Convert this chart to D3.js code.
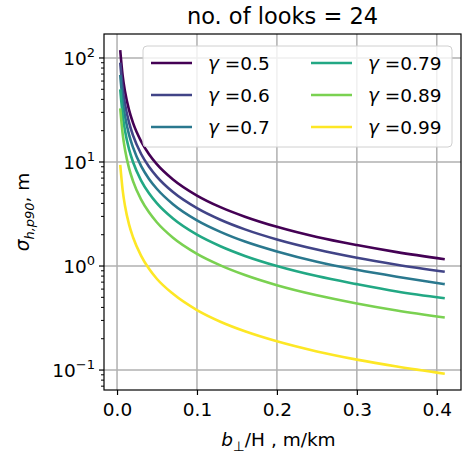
<!DOCTYPE html>
<html>
<head>
<meta charset="utf-8">
<script src="https://cdn.jsdelivr.net/npm/d3@7"></script>
<style>
  body { margin: 0; background: #fff; }
  text { font-family: "DejaVu Sans", sans-serif; fill: #000; }
</style>
</head>
<body>
<div id="main"></div>
<script>
const ctx = { w: 463, h: 454 };
const margin = { top: 34, right: 2, bottom: 64, left: 104 };

// baseline ratio b_perp/H (m/km)
const xVals = [0.004, 0.007, 0.01, 0.015, 0.02, 0.03, 0.04, 0.05, 0.07, 0.1, 0.13, 0.16, 0.2, 0.25, 0.3, 0.35, 0.41];

const gammas = ["0.5", "0.6", "0.7", "0.79", "0.89", "0.99"];
const colors = ["#440154", "#414487", "#2a788e", "#22a884", "#7ad151", "#fde725"];

const sig05 = [119, 68, 47.6, 31.7, 23.8, 15.9, 11.9, 9.5, 6.8, 4.76, 3.66, 2.98, 2.38, 1.90, 1.59, 1.36, 1.16];
const sig06 = [90, 51.4, 36, 24, 18, 12, 9.0, 7.2, 5.14, 3.6, 2.77, 2.25, 1.8, 1.44, 1.2, 1.03, 0.88];
const sig07 = [68.8, 39.3, 27.5, 18.3, 13.8, 9.17, 6.88, 5.5, 3.93, 2.75, 2.12, 1.72, 1.38, 1.10, 0.92, 0.79, 0.67];
const sig079 = [50, 28.6, 20, 13.3, 10, 6.67, 5.0, 4.0, 2.86, 2.0, 1.54, 1.25, 1.0, 0.80, 0.67, 0.57, 0.49];
const sig089 = [32.8, 18.7, 13.1, 8.73, 6.55, 4.37, 3.28, 2.62, 1.87, 1.31, 1.01, 0.82, 0.655, 0.524, 0.437, 0.374, 0.32];
const sig099 = [9.4, 5.4, 3.77, 2.51, 1.89, 1.26, 0.94, 0.75, 0.54, 0.377, 0.29, 0.236, 0.189, 0.151, 0.126, 0.108, 0.092];
const series = [sig05, sig06, sig07, sig079, sig089, sig099];

const xTicks = [0.0, 0.1, 0.2, 0.3, 0.4];
const yTicks = [0.1, 1, 10, 100];
const yExp = ["−1", "0", "1", "2"];

const svg = d3.select("#main").append("svg")
    .attr("width", ctx.w)
    .attr("height", ctx.h);

const iw = ctx.w - margin.left - margin.right;
const ih = ctx.h - margin.top - margin.bottom;

const x = d3.scaleLinear().domain([-0.0163, 0.4303]).range([0, iw]);
const y = d3.scaleLog().domain([0.0643, 170]).range([ih, 0]);

const g = svg.append("g").attr("transform", `translate(${margin.left},${margin.top})`);

// grid
g.append("g").selectAll("line").data(xTicks).enter().append("line")
    .attr("x1", d => x(d)).attr("x2", d => x(d))
    .attr("y1", 0).attr("y2", ih)
    .attr("stroke", "#b0b0b0").attr("stroke-width", 1.5);
g.append("g").selectAll("line").data(yTicks).enter().append("line")
    .attr("x1", 0).attr("x2", iw)
    .attr("y1", d => y(d)).attr("y2", d => y(d))
    .attr("stroke", "#b0b0b0").attr("stroke-width", 1.5);

// curves
const line = d3.line()
    .x((d, i) => x(xVals[i]))
    .y(d => y(d))
    .curve(d3.curveMonotoneX);

g.append("g").selectAll("path").data(series).enter().append("path")
    .attr("d", d => line(d))
    .attr("fill", "none")
    .attr("stroke", (d, i) => colors[i])
    .attr("stroke-width", 2.6);

// x axis
const xAxis = g.append("g").attr("transform", `translate(0,${ih})`)
    .call(d3.axisBottom(x).tickValues(xTicks).tickFormat(d3.format(".1f")).tickSize(5).tickSizeOuter(0));
xAxis.select(".domain").remove();
xAxis.selectAll("line").attr("stroke-width", 1.2);
xAxis.selectAll("text").style("font-size", "18.5px").attr("dy", "0.95em");

// y axis: minor ticks
const minor = [];
[0.01, 0.1, 1, 10, 100].forEach(dec => {
    for (let k = 2; k <= 9; k++) {
        const v = dec * k;
        if (v > 0.0643 && v < 170) minor.push(v);
    }
});
g.append("g").selectAll("line").data(minor).enter().append("line")
    .attr("x1", -3).attr("x2", 0)
    .attr("y1", d => y(d)).attr("y2", d => y(d))
    .attr("stroke", "#000").attr("stroke-width", 1);

const yAx = g.append("g");
yAx.selectAll("line").data(yTicks).enter().append("line")
    .attr("x1", -5).attr("x2", 0)
    .attr("y1", d => y(d)).attr("y2", d => y(d))
    .attr("stroke", "#000").attr("stroke-width", 1.2);
const yl = yAx.selectAll("text").data(yTicks).enter().append("text")
    .attr("x", -9)
    .attr("y", d => y(d) + 7)
    .attr("text-anchor", "end")
    .style("font-size", "18.5px");
yl.append("tspan").text("10");
yl.append("tspan").attr("dy", -8).style("font-size", "13px").text((d, i) => yExp[i]);

// frame
g.append("rect")
    .attr("width", iw).attr("height", ih)
    .attr("fill", "none").attr("stroke", "#000").attr("stroke-width", 1.2);

// legend
const lg = g.append("g").attr("transform", "translate(39,12)");
lg.append("rect")
    .attr("width", 309).attr("height", 101).attr("rx", 4)
    .attr("fill", "#fff").attr("fill-opacity", 0.8)
    .attr("stroke", "#d0d0d0").attr("stroke-width", 1);
gammas.forEach((gm, i) => {
    const col = Math.floor(i / 3), row = i % 3;
    const lx = 8 + col * 160, ly = 17 + row * 32;
    lg.append("line")
        .attr("x1", lx).attr("x2", lx + 41)
        .attr("y1", ly).attr("y2", ly)
        .attr("stroke", colors[i]).attr("stroke-width", 2.6);
    const t = lg.append("text")
        .attr("x", lx + 57).attr("y", ly + 7)
        .style("font-size", "18.5px");
    t.append("tspan").style("font-style", "italic").text("γ");
    t.append("tspan").text(" =" + gm);
});

// title
svg.append("text")
    .attr("x", margin.left + iw / 2).attr("y", 24)
    .attr("text-anchor", "middle")
    .style("font-size", "22.5px")
    .text("no. of looks = 24");

// x label
const xl = svg.append("text")
    .attr("x", margin.left + iw / 2 - 4).attr("y", 446)
    .attr("text-anchor", "middle")
    .style("font-size", "18.5px");
xl.append("tspan").style("font-style", "italic").text("b");
xl.append("tspan").attr("dy", 5).style("font-size", "13.5px").text("⊥");
xl.append("tspan").attr("dy", -5).text("/H , m/km");

// y label
const ylab = svg.append("text")
    .attr("transform", `translate(29,${margin.top + ih / 2}) rotate(-90)`)
    .attr("text-anchor", "middle")
    .style("font-size", "18.5px");
ylab.append("tspan").style("font-style", "italic").text("σ");
ylab.append("tspan").attr("dy", 5).style("font-size", "13px").style("font-style", "italic").text("h,p90");
ylab.append("tspan").attr("dy", -5).text(", m");
</script>
</body>
</html>
